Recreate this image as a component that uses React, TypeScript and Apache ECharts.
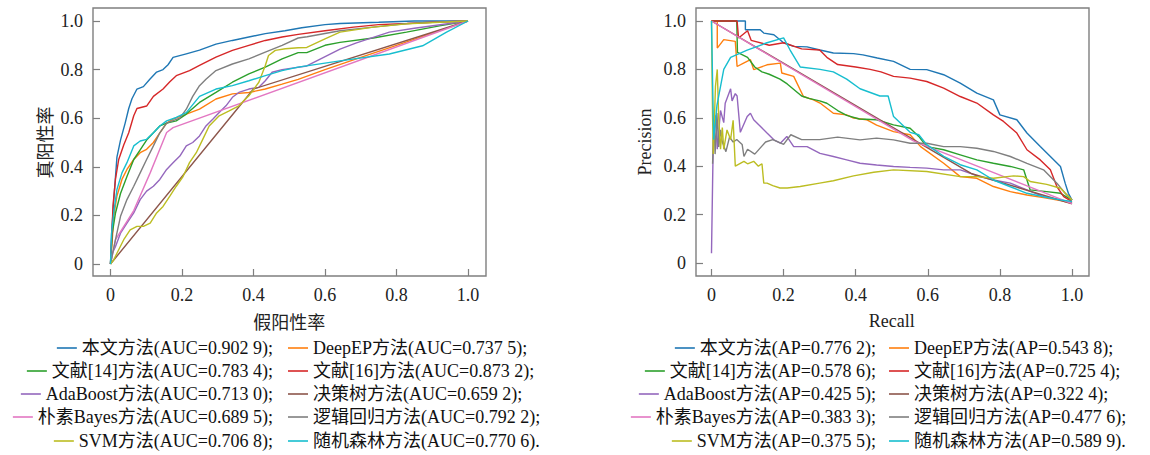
import React, { useEffect, useRef } from "react";
import * as echarts from "echarts";

const methods = ["本文方法", "DeepEP方法", "文献[14]方法", "文献[16]方法", "AdaBoost方法", "决策树方法", "朴素Bayes方法", "逻辑回归方法", "SVM方法", "随机森林方法"];
const aucValues = ["0.902 9", "0.737 5", "0.783 4", "0.873 2", "0.713 0", "0.659 2", "0.689 5", "0.792 2", "0.706 8", "0.770 6"];
const apValues = ["0.776 2", "0.543 8", "0.578 6", "0.725 4", "0.425 5", "0.322 4", "0.383 3", "0.477 6", "0.375 5", "0.589 9"];
const colors = ["#1f77b4", "#ff7f0e", "#2ca02c", "#d62728", "#9467bd", "#8c564b", "#e377c2", "#7f7f7f", "#bcbd22", "#17becf"];

// ROC curves: [false positive rate, true positive rate]
const rocBenwen = [[0,0],[0.003,0.12],[0.009,0.26],[0.018,0.44],[0.028,0.51],[0.041,0.58],[0.051,0.64],[0.06,0.68],[0.074,0.72],[0.092,0.73],[0.11,0.76],[0.129,0.79],[0.147,0.8],[0.161,0.82],[0.175,0.85],[0.212,0.865],[0.249,0.88],[0.295,0.905],[0.341,0.92],[0.387,0.934],[0.433,0.948],[0.488,0.96],[0.535,0.972],[0.6,0.985],[0.642,0.99],[0.75,0.995],[0.85,1],[1,1]];
const rocDeepEP = [[0,0],[0.005,0.1],[0.009,0.196],[0.018,0.28],[0.032,0.348],[0.046,0.389],[0.065,0.43],[0.083,0.458],[0.101,0.472],[0.12,0.5],[0.138,0.54],[0.157,0.58],[0.175,0.596],[0.212,0.617],[0.249,0.637],[0.295,0.679],[0.341,0.7],[0.387,0.706],[0.433,0.72],[0.48,0.74],[0.525,0.76],[0.6,0.8],[0.7,0.85],[0.8,0.9],[0.9,0.95],[1,1]];
const rocRef14 = [[0,0],[0.005,0.127],[0.014,0.21],[0.028,0.29],[0.046,0.36],[0.065,0.43],[0.083,0.47],[0.101,0.51],[0.12,0.54],[0.138,0.568],[0.157,0.58],[0.184,0.589],[0.212,0.617],[0.249,0.665],[0.295,0.706],[0.341,0.748],[0.387,0.782],[0.433,0.81],[0.48,0.844],[0.525,0.87],[0.549,0.87],[0.6,0.9],[0.642,0.912],[0.735,0.93],[0.828,0.954],[0.92,0.98],[1,1]];
const rocRef16 = [[0,0],[0.004,0.13],[0.007,0.24],[0.014,0.35],[0.023,0.43],[0.037,0.49],[0.051,0.54],[0.065,0.61],[0.074,0.64],[0.101,0.65],[0.12,0.69],[0.147,0.72],[0.166,0.75],[0.184,0.775],[0.221,0.796],[0.249,0.817],[0.295,0.851],[0.341,0.879],[0.387,0.9],[0.433,0.92],[0.48,0.934],[0.525,0.945],[0.6,0.96],[0.68,0.975],[0.75,0.985],[0.83,0.99],[0.9,0.995],[1,1]];
const rocAdaBoost = [[0,0],[0.005,0.044],[0.014,0.072],[0.028,0.127],[0.046,0.168],[0.065,0.21],[0.083,0.265],[0.101,0.3],[0.12,0.32],[0.138,0.348],[0.157,0.389],[0.175,0.417],[0.194,0.444],[0.212,0.486],[0.23,0.5],[0.249,0.527],[0.267,0.568],[0.286,0.596],[0.304,0.623],[0.323,0.651],[0.341,0.686],[0.359,0.706],[0.387,0.72],[0.415,0.727],[0.433,0.754],[0.452,0.789],[0.48,0.8],[0.549,0.815],[0.642,0.884],[0.688,0.91],[0.78,0.954],[0.85,0.97],[1,1]];
const rocTree = [[0,0],[0.4,0.72],[1,1]];
const rocBayes = [[0,0],[0.014,0.1],[0.065,0.22],[0.111,0.375],[0.157,0.541],[0.175,0.561],[1,1]];
const rocLogistic = [[0,0],[0.014,0.1],[0.028,0.196],[0.046,0.265],[0.065,0.32],[0.083,0.375],[0.101,0.43],[0.12,0.486],[0.138,0.54],[0.157,0.58],[0.175,0.59],[0.194,0.6],[0.212,0.637],[0.23,0.69],[0.249,0.734],[0.267,0.76],[0.295,0.796],[0.341,0.823],[0.387,0.844],[0.433,0.872],[0.48,0.9],[0.525,0.93],[0.55,0.935],[0.642,0.96],[0.735,0.975],[0.83,0.99],[0.9,0.995],[1,1]];
const rocSVM = [[0,0],[0.009,0.017],[0.018,0.044],[0.037,0.1],[0.055,0.14],[0.074,0.155],[0.092,0.155],[0.111,0.168],[0.129,0.21],[0.147,0.237],[0.166,0.279],[0.184,0.32],[0.203,0.36],[0.221,0.417],[0.24,0.458],[0.258,0.513],[0.276,0.568],[0.304,0.61],[0.332,0.63],[0.359,0.651],[0.387,0.692],[0.415,0.748],[0.433,0.817],[0.442,0.858],[0.461,0.879],[0.489,0.886],[0.525,0.89],[0.549,0.891],[0.6,0.926],[0.642,0.954],[0.735,0.975],[0.828,0.988],[1,1]];
const rocForest = [[0,0],[0.003,0.127],[0.009,0.21],[0.018,0.306],[0.032,0.375],[0.046,0.417],[0.065,0.486],[0.083,0.506],[0.101,0.513],[0.12,0.54],[0.138,0.568],[0.157,0.589],[0.184,0.603],[0.212,0.623],[0.249,0.69],[0.295,0.72],[0.341,0.734],[0.387,0.754],[0.433,0.775],[0.48,0.796],[0.525,0.81],[0.642,0.836],[0.78,0.864],[0.873,0.898],[0.94,0.954],[1,1]];

// PR curves: [recall, precision]
const prBenwen = [[0,1],[0.094,1],[0.094,0.964],[0.135,0.964],[0.145,0.95],[0.173,0.943],[0.2,0.91],[0.228,0.895],[0.265,0.893],[0.301,0.88],[0.338,0.868],[0.394,0.865],[0.42,0.86],[0.46,0.847],[0.505,0.833],[0.551,0.8],[0.597,0.799],[0.644,0.778],[0.69,0.743],[0.736,0.702],[0.782,0.674],[0.8,0.612],[0.847,0.592],[0.875,0.537],[0.912,0.481],[0.94,0.44],[0.968,0.399],[0.981,0.33],[0.99,0.288],[1,0.26]];
const prDeepEP = [[0,1],[0.016,1],[0.016,0.888],[0.034,0.923],[0.066,0.916],[0.071,0.812],[0.089,0.826],[0.108,0.84],[0.117,0.799],[0.154,0.819],[0.191,0.826],[0.195,0.785],[0.228,0.771],[0.255,0.688],[0.283,0.674],[0.301,0.661],[0.338,0.619],[0.375,0.612],[0.394,0.599],[0.43,0.592],[0.458,0.57],[0.505,0.543],[0.551,0.53],[0.58,0.481],[0.644,0.412],[0.69,0.357],[0.736,0.35],[0.782,0.316],[0.829,0.295],[0.875,0.281],[0.921,0.27],[0.968,0.258],[1,0.247]];
const prRef14 = [[0,1],[0.07,1],[0.072,0.87],[0.1,0.85],[0.12,0.81],[0.14,0.79],[0.16,0.78],[0.19,0.76],[0.21,0.74],[0.25,0.69],[0.27,0.68],[0.3,0.67],[0.32,0.66],[0.35,0.63],[0.375,0.61],[0.41,0.595],[0.458,0.592],[0.505,0.571],[0.551,0.557],[0.575,0.523],[0.597,0.481],[0.644,0.468],[0.69,0.447],[0.736,0.426],[0.782,0.412],[0.829,0.399],[0.866,0.385],[0.884,0.302],[0.93,0.295],[0.968,0.288],[1,0.26]];
const prRef16 = [[0,1],[0.071,1],[0.075,0.93],[0.1,0.96],[0.11,0.92],[0.16,0.9],[0.2,0.91],[0.25,0.885],[0.3,0.88],[0.32,0.85],[0.35,0.82],[0.4,0.81],[0.44,0.8],[0.47,0.79],[0.505,0.771],[0.551,0.764],[0.597,0.75],[0.644,0.723],[0.69,0.688],[0.736,0.661],[0.782,0.612],[0.81,0.585],[0.847,0.537],[0.875,0.468],[0.912,0.426],[0.94,0.385],[0.958,0.316],[0.977,0.274],[1,0.254]];
const prAdaBoost = [[0,0.04],[0.003,0.33],[0.005,0.51],[0.011,0.61],[0.016,0.47],[0.025,0.63],[0.034,0.58],[0.038,0.66],[0.043,0.68],[0.053,0.72],[0.057,0.67],[0.066,0.7],[0.071,0.69],[0.08,0.54],[0.099,0.605],[0.108,0.619],[0.117,0.592],[0.136,0.564],[0.154,0.537],[0.173,0.509],[0.191,0.495],[0.209,0.523],[0.228,0.481],[0.265,0.481],[0.301,0.453],[0.338,0.44],[0.375,0.426],[0.412,0.412],[0.458,0.405],[0.505,0.399],[0.551,0.395],[0.597,0.392],[0.644,0.385],[0.69,0.385],[0.718,0.371],[0.736,0.36],[0.782,0.343],[0.829,0.33],[0.875,0.302],[0.921,0.274],[0.968,0.261],[1,0.247]];
const prTree = [[0,1],[0.72,0.37],[1,0.245]];
const prBayes = [[0,1],[0.56,0.505],[1,0.245]];
const prLogistic = [[0.003,0.41],[0.007,0.58],[0.01,0.45],[0.015,0.62],[0.02,0.48],[0.025,0.55],[0.03,0.5],[0.04,0.46],[0.05,0.52],[0.06,0.5],[0.07,0.51],[0.085,0.49],[0.09,0.44],[0.1,0.47],[0.12,0.45],[0.15,0.5],[0.17,0.51],[0.2,0.49],[0.22,0.53],[0.25,0.51],[0.3,0.51],[0.35,0.52],[0.412,0.509],[0.458,0.516],[0.505,0.509],[0.551,0.495],[0.597,0.495],[0.644,0.481],[0.69,0.481],[0.736,0.474],[0.782,0.461],[0.829,0.44],[0.875,0.412],[0.921,0.385],[0.958,0.33],[0.981,0.288],[1,0.26]];
const prSVM = [[0,1],[0.003,0.6],[0.005,0.45],[0.011,0.73],[0.016,0.8],[0.02,0.6],[0.025,0.47],[0.03,0.56],[0.034,0.47],[0.043,0.55],[0.053,0.51],[0.06,0.59],[0.066,0.4],[0.09,0.42],[0.1,0.41],[0.117,0.42],[0.13,0.4],[0.14,0.41],[0.145,0.33],[0.154,0.33],[0.17,0.32],[0.19,0.31],[0.21,0.31],[0.246,0.316],[0.3,0.33],[0.338,0.34],[0.394,0.36],[0.45,0.375],[0.505,0.385],[0.597,0.378],[0.69,0.357],[0.736,0.357],[0.782,0.35],[0.838,0.36],[0.866,0.357],[0.884,0.337],[0.93,0.325],[0.968,0.309],[1,0.26]];
const prForest = [[0,1],[0.003,0.75],[0.006,0.51],[0.015,0.65],[0.034,0.8],[0.053,0.85],[0.099,0.88],[0.154,0.91],[0.2,0.93],[0.218,0.88],[0.246,0.81],[0.301,0.8],[0.338,0.79],[0.375,0.76],[0.412,0.72],[0.467,0.69],[0.49,0.69],[0.505,0.605],[0.551,0.54],[0.575,0.53],[0.597,0.489],[0.644,0.441],[0.69,0.406],[0.736,0.385],[0.782,0.343],[0.829,0.315],[0.875,0.288],[0.921,0.274],[0.968,0.261],[1,0.254]];

const rocData = [rocBenwen, rocDeepEP, rocRef14, rocRef16, rocAdaBoost, rocTree, rocBayes, rocLogistic, rocSVM, rocForest];
const prData = [prBenwen, prDeepEP, prRef14, prRef16, prAdaBoost, prTree, prBayes, prLogistic, prSVM, prForest];

const FONT = "'Liberation Serif', 'Times New Roman', 'Noto Sans CJK SC', serif";
const CJK = "'Noto Sans CJK SC', sans-serif";
const FRAME = "#7f7f7f";

export default function App() {
  const ref = useRef<HTMLDivElement>(null);
  useEffect(() => {
    if (!ref.current) return;
    const chart = echarts.init(ref.current, null, { renderer: "svg" });
    const W = 1150;
    const rocNames = methods.map((m, i) => `${m}(AUC=${aucValues[i]})${i === 9 ? "." : ";"}`);
    const prNames = methods.map((m, i) => `${m}(AP=${apValues[i]})${i === 9 ? "." : ";"}`);
    const fmt = (v: number) => (Math.abs(v) < 1e-9 ? "0" : v.toFixed(1));

    const frames = [
      { x: 93, y: 8, w: 393, h: 268 },
      { x: 696, y: 8, w: 393, h: 268 },
    ];
    const plots = [
      { left: 110.5, top: 21, width: 357.5, height: 243 },
      { left: 711.5, top: 21, width: 360.5, height: 242 },
    ];

    const mkX = (gi: number, name: string, nameFont: string) => {
      const f = frames[gi], p = plots[gi];
      return {
        type: "value", gridIndex: gi, min: 0, max: 1, interval: 0.2,
        offset: (f.y + f.h) - (p.top + p.height),
        name, nameLocation: "middle", nameGap: 36,
        nameTextStyle: { fontFamily: nameFont, fontSize: 18, color: "#222" },
        axisLine: { show: false, onZero: false },
        axisTick: { show: true, inside: true, length: 7, lineStyle: { color: FRAME, width: 1.2 } },
        axisLabel: { formatter: fmt, fontFamily: FONT, fontSize: 18, color: "#222", margin: 10 },
        splitLine: { show: false },
      };
    };
    const mkY = (gi: number, name: string, nameFont: string, gap: number) => {
      const f = frames[gi], p = plots[gi];
      return {
        type: "value", gridIndex: gi, min: 0, max: 1, interval: 0.2,
        offset: p.left - f.x,
        name, nameLocation: "middle", nameGap: gap, nameRotate: 90,
        nameTextStyle: { fontFamily: nameFont, fontSize: 18, color: "#222" },
        axisLine: { show: false, onZero: false },
        axisTick: { show: true, inside: true, length: 7, lineStyle: { color: FRAME, width: 1.2 } },
        axisLabel: { formatter: fmt, fontFamily: FONT, fontSize: 18, color: "#222", margin: 10 },
        splitLine: { show: false },
      };
    };

    const rowCenters = [348, 371, 394, 417, 441];
    const legends: any[] = [];
    const addLegend = (name: string, idx: number, col1Right: number, col2Left: number) => {
      const row = Math.floor(idx / 2);
      const col = idx % 2;
      const base: any = {
        data: [name], top: rowCenters[row] - 10, padding: 0, icon: "rect",
        itemWidth: 20, itemHeight: 1.6, selectedMode: false,
        textStyle: { fontFamily: FONT, fontSize: 18, color: "#111", lineHeight: 20 },
      };
      if (col === 0) base.right = W - col1Right;
      else base.left = col2Left;
      legends.push(base);
    };
    rocNames.forEach((n, i) => addLegend(n, i, 273, 288));
    prNames.forEach((n, i) => addLegend(n, i, 876, 889));

    const series: any[] = [];
    rocData.forEach((d, i) => series.push({
      name: rocNames[i], type: "line", xAxisIndex: 0, yAxisIndex: 0, data: d, clip: false,
      showSymbol: false, symbol: "none", color: colors[i], lineStyle: { width: 1.4, color: colors[i] },
    }));
    prData.forEach((d, i) => series.push({
      name: prNames[i], type: "line", xAxisIndex: 1, yAxisIndex: 1, data: d, clip: false,
      showSymbol: false, symbol: "none", color: colors[i], lineStyle: { width: 1.4, color: colors[i] },
    }));

    chart.setOption({
      animation: false,
      backgroundColor: "#fff",
      grid: plots.map((p) => ({ ...p, show: false })),
      xAxis: [mkX(0, "假阳性率", CJK), mkX(1, "Recall", FONT)],
      yAxis: [mkY(0, "真阳性率", CJK, 40), mkY(1, "Precision", FONT, 42)],
      legend: legends,
      graphic: frames.map((f) => ({
        type: "rect", silent: true, z: 50,
        shape: { x: f.x, y: f.y, width: f.w, height: f.h },
        style: { fill: "none", stroke: FRAME, lineWidth: 1.4 },
      })),
      series,
    });
    return () => chart.dispose();
  }, []);
  return <div ref={ref} style={{ position: "absolute", left: 0, top: 0, width: 1150, height: 455 }} />;
}
